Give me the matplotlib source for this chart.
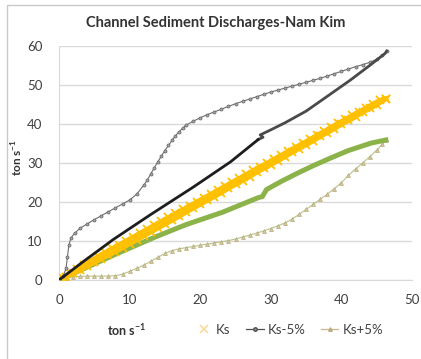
import matplotlib.pyplot as plt
from matplotlib.lines import Line2D
from matplotlib.patches import Rectangle

plt.rcParams['font.family'] = ['Lato', 'DejaVu Sans']
plt.rcParams['mathtext.fontset'] = 'custom'
plt.rcParams['mathtext.rm'] = 'Lato'
plt.rcParams['mathtext.bf'] = 'Lato:bold'

# Ks loop (rising and falling limbs lie almost on top of each other)
ks_rise_x = [0, 1, 2, 3, 4, 5, 6, 7, 8, 9, 10, 11, 12, 13, 14, 15, 16, 17, 18, 19, 20, 21, 22, 23,
             24, 25, 26, 27, 28, 29, 30, 31, 32, 33, 34, 35, 36, 37, 38, 39, 40, 41, 42, 43, 44, 45, 46.3]
ks_rise_y = [0, 0.8, 1.7, 2.6, 3.5, 4.5, 5.4, 6.4, 7.3, 8.3, 9.3, 10.3, 11.3, 12.3, 13.3, 14.3, 15.3,
             16.3, 17.4, 18.4, 19.4, 20.4, 21.4, 22.4, 23.5, 24.5, 25.5, 26.5, 27.6, 28.6, 29.6, 30.6,
             31.6, 32.7, 33.7, 34.7, 35.7, 36.8, 37.8, 38.8, 39.9, 40.9, 41.9, 43.0, 44.0, 45.0, 46.4]
ks_fall_x = [46.3, 45.5, 44.5, 43.5, 42.5, 41.5, 40.5, 39.5, 38.5, 37.5, 36.5, 35.5, 34.5, 33.5, 32.5,
             31.5, 30.5, 29.5, 28.5, 27.5, 26.5, 25.5, 24.5, 23.5, 22.5, 21.5, 20.5, 19.5, 18.5, 17.5,
             16.5, 15.5, 14.5, 13.5, 12.5, 11.5, 10.5, 9.5, 8.5, 7.5, 6.5, 5.5, 4.5, 3.5, 2.5, 1.5, 0.5, 0]
ks_fall_y = [46.4, 46.2, 45.2, 44.2, 43.2, 42.2, 41.2, 40.2, 39.2, 38.1, 37.1, 36.1, 35.1, 34.1, 33.1,
             32.1, 31.1, 30.1, 29.1, 28.1, 27.1, 26.1, 25.1, 24.1, 23.1, 22.1, 21.1, 20.1, 19.1, 18.1,
             17.1, 16.1, 15.1, 14.1, 13.1, 12.1, 11.1, 10.1, 9.1, 8.1, 7.1, 6.1, 5.0, 3.9, 2.8, 1.7, 0.6, 0]

# Ks-5% loop
km_rise_x = [0, 0.6, 1.0, 1.2, 1.4, 1.7, 2.2, 3, 4, 5, 6, 7, 8, 9, 10, 11, 12, 12.5, 13, 13.5, 14,
             14.5, 15, 15.5, 16, 16.5, 17, 17.5, 18, 19, 20, 21, 22, 23, 24, 25, 26, 27, 28, 29, 30,
             31, 32, 33, 34, 35, 36, 37, 38, 39, 40, 41, 42, 43, 44, 45, 45.8, 46.4]
km_rise_y = [0, 1, 3, 6, 9, 10.8, 12, 13.3, 14.4, 15.5, 16.5, 17.5, 18.5, 19.5, 20.5, 22, 24.3, 25.6,
             27.2, 28.8, 30.3, 31.8, 33.2, 34.5, 35.8, 37, 38, 38.9, 39.7, 40.7, 41.6, 42.4, 43.1, 43.8,
             44.5, 45.2, 45.8, 46.4, 47, 47.6, 48.2, 48.7, 49.2, 49.7, 50.2, 50.7, 51.2, 51.7, 52.3,
             52.9, 53.5, 54.1, 54.7, 55.2, 55.8, 56.6, 57.6, 58.7]
km_fall_top_x = [46.4, 46.2, 44.0, 41.3, 38.0, 35.0, 32.0, 30.0, 28.5, 28.9, 28.2]
km_fall_top_y = [58.7, 58.1, 55.0, 51.3, 47.1, 43.3, 40.3, 38.5, 37.2, 36.6, 36.0]
km_fall_low_x = [28.2, 24.3, 19.0, 13.0, 7.7, 3.5, 0]
km_fall_low_y = [36.0, 30.3, 23.8, 16.8, 10.4, 4.8, 0]

# Ks+5% loop
kp_rise_x = [0, 1, 2, 3, 4, 5, 6, 7, 8, 9, 10, 11, 12, 13, 14, 15, 16, 17, 18, 19, 20, 21, 22, 23,
             24, 25, 26, 27, 28, 29, 30, 31, 32, 33, 34, 35, 36, 37, 38, 39, 40, 41, 42, 43, 44, 45,
             45.8, 46.3]
kp_rise_y = [0, 0.6, 0.8, 0.9, 1.0, 1.0, 1.0, 1.0, 1.1, 1.5, 2.2, 3.0, 3.8, 4.8, 5.8, 6.8, 7.5, 8.0,
             8.3, 8.6, 8.9, 9.2, 9.5, 9.8, 10.1, 10.5, 11.0, 11.5, 12.0, 12.6, 13.2, 13.9, 14.6, 15.6,
             16.8, 18.1, 19.4, 20.7, 22.0, 23.4, 25.0, 26.8, 28.5, 30.0, 31.6, 33.3, 34.8, 35.9]
kp_fall_x = [46.3, 44.2, 41.0, 38.5, 36.0, 33.8, 31.5, 29.4, 28.8, 28.2, 23.2, 18.0, 13.6, 8.0, 4.0, 0]
kp_fall_y = [35.9, 35.1, 33.2, 31.3, 29.3, 27.4, 25.3, 23.2, 21.4, 21.1, 17.4, 14.2, 11.0, 6.6, 3.3, 0]

yellow = '#FFC000'
green = '#8CB34A'

fig = plt.figure(figsize=(4.21, 3.59), dpi=100)
fig.add_artist(Rectangle((7 / 421, -0.1), 1.5, 1.086, transform=fig.transFigure,
                         fill=False, ec='#c8c8c8', lw=1))
ax = fig.add_axes([59 / 421, 1 - 280 / 359, 353 / 421, 234 / 359])

# Ks+5%
ax.plot(kp_rise_x, kp_rise_y, color='#b5c58a', lw=0.8, marker='^', ms=2.8,
        mfc='#d6c9a2', mec='#b8a878', mew=0.5, zorder=3)
ax.plot(kp_fall_x, kp_fall_y, color=green, lw=3.6, solid_joinstyle='miter', zorder=3)

# Ks
ax.plot(ks_rise_x, ks_rise_y, color=yellow, lw=3.5, marker='x', ms=6, mew=1.3, zorder=4)
ax.plot(ks_fall_x, ks_fall_y, color=yellow, lw=3.0, marker='x', ms=6, mew=1.3, zorder=4)

# Ks-5%
ax.plot(km_rise_x, km_rise_y, color='#6e6e6e', lw=0.8, marker='o', ms=2.2,
        mfc='#a8a8a8', mec='#606060', mew=0.5, zorder=5)
ax.plot(km_fall_top_x, km_fall_top_y, color='#4a4a4a', lw=2.0, zorder=5)
ax.plot(km_fall_low_x, km_fall_low_y, color='#1e1e1e', lw=2.0, zorder=5)

ax.set_xlim(0, 50)
ax.set_ylim(0, 60)
ax.set_xticks(range(0, 51, 10))
ax.set_yticks(range(0, 61, 10))
ax.grid(axis='y', color='#d9d9d9', lw=1)
ax.set_axisbelow(True)
for s in ['top', 'right']:
    ax.spines[s].set_visible(False)
for s in ['left', 'bottom']:
    ax.spines[s].set_color('#d9d9d9')
ax.tick_params(length=0, labelsize=9.5, labelcolor='#404040')
ax.tick_params(axis='x', pad=10)
ax.tick_params(axis='y', pad=12)

fig.text(216 / 421, 1 - 23 / 359, 'Channel Sediment Discharges-Nam Kim', ha='center', va='center',
         fontsize=10.5, fontweight='bold', color='#333333')
fig.text(17 / 421, 1 - 158 / 359, 'ton s$^{\\mathbf{-1}}$', rotation=90, ha='center', va='center',
         fontsize=8.5, fontweight='bold', color='#333333')
fig.text(127 / 421, 1 - 330 / 359, 'ton s$^{\\mathbf{-1}}$', ha='center', va='center',
         fontsize=9, fontweight='bold', color='#333333')

handles = [
    Line2D([], [], ls='none', marker='x', ms=6, mew=1.2, color='#fbd9a0'),
    Line2D([], [], color='#505050', lw=0.9, marker='o', ms=2.5, mfc='#909090', mec='#505050'),
    Line2D([], [], color='#c8b88a', lw=0.9, marker='^', ms=2.5, mfc='#d6c9a2', mec='#b8a878'),
]
fig.legend(handles, ['Ks', 'Ks-5%', 'Ks+5%'], loc='center', bbox_to_anchor=(289 / 421, 1 - 330 / 359),
           ncol=3, frameon=False, fontsize=9.5, handlelength=1.3, handletextpad=0.3,
           columnspacing=1.2, labelcolor='#404040')

fig.savefig('out.png', dpi=100)
